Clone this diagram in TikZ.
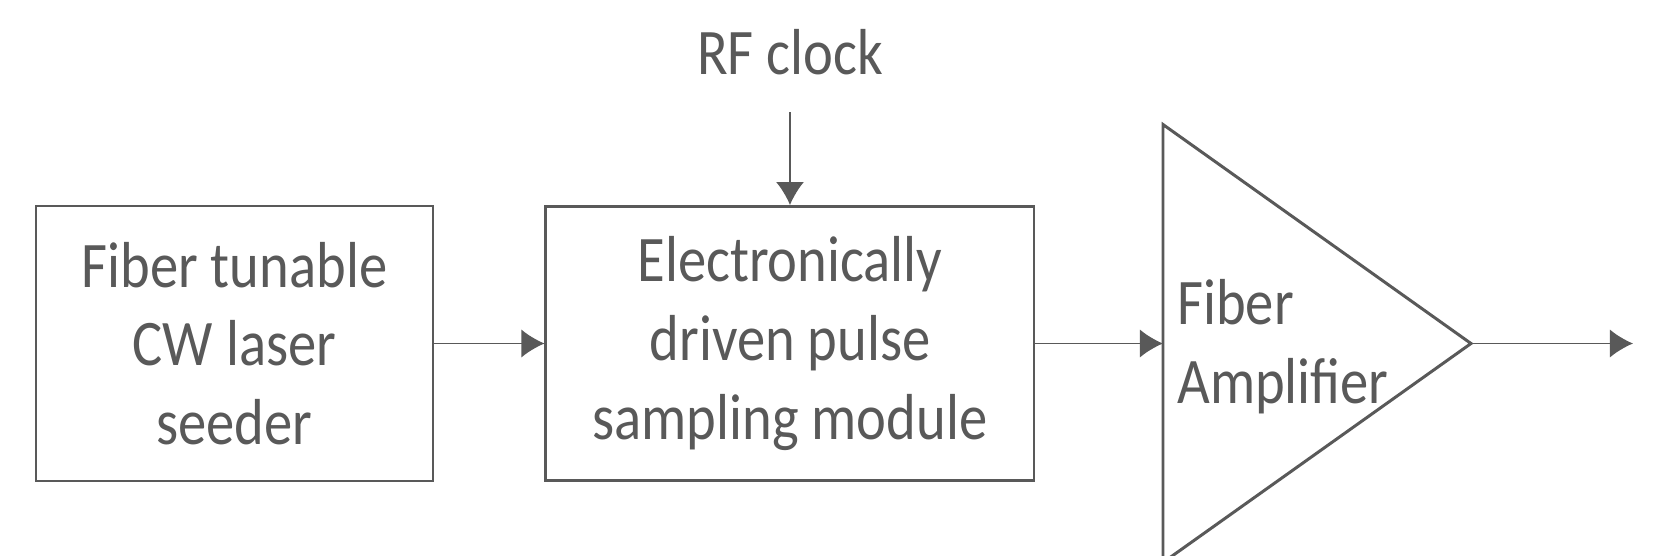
\documentclass[tikz,border=0pt]{standalone}
\usepackage{fontspec}
\setmainfont{Carlito}[FakeStretch=0.87]
\usepackage{tikz}
\usetikzlibrary{arrows.meta,positioning,calc}
\definecolor{linegray}{HTML}{595959}
\tikzset{
    block/.style={draw=linegray, line width=1.7pt, rectangle, minimum width=7.94cm, minimum height=5.5cm, align=center, text=linegray, font=\fontsize{37pt}{44.8pt}\selectfont},
    signal/.style={-{Latex[length=4.6mm, width=5.6mm]}, line width=0.8pt, linegray},
    amp/.style={draw=linegray, line width=1.7pt, line join=miter},
    lbl/.style={text=linegray, inner sep=0pt, font=\fontsize{37pt}{44.8pt}\selectfont}
}

\begin{document}
\begin{tikzpicture}
    \useasboundingbox (0,0) rectangle (33.16,11.1);
    \clip (0,0) rectangle (33.16,11.1);
    \node[block] (seeder) at (4.69,4.23) {Fiber tunable\\CW laser\\seeder};
    \node[block, minimum width=9.76cm, minimum height=5.48cm, right=2.2cm of seeder] (sampler) {Electronically\\driven pulse\\sampling module};
    \node[lbl, above=2.6cm of sampler] (rf) {RF clock};
    % amplifier triangle
    \coordinate[right=2.55cm of sampler.east] (ampin);
    \coordinate[right=6.16cm of ampin] (apex);
    \coordinate[right=3.24cm of apex] (out);
    \draw[amp] ($(ampin)+(0,4.38)$) -- (apex) -- ($(ampin)+(0,-4.38)$) -- cycle;
    \node[lbl, align=left, anchor=west] (amptext) at ($(ampin)+(0.28,-0.07)$) {Fiber\\Amplifier};
    \draw[signal] (seeder) -- (sampler);
    \draw[signal] (sampler) -- (ampin);
    \draw[signal] (apex) -- (out);
    \draw[signal, shorten <=0.74cm] (rf) -- (sampler);
\end{tikzpicture}
\end{document}
